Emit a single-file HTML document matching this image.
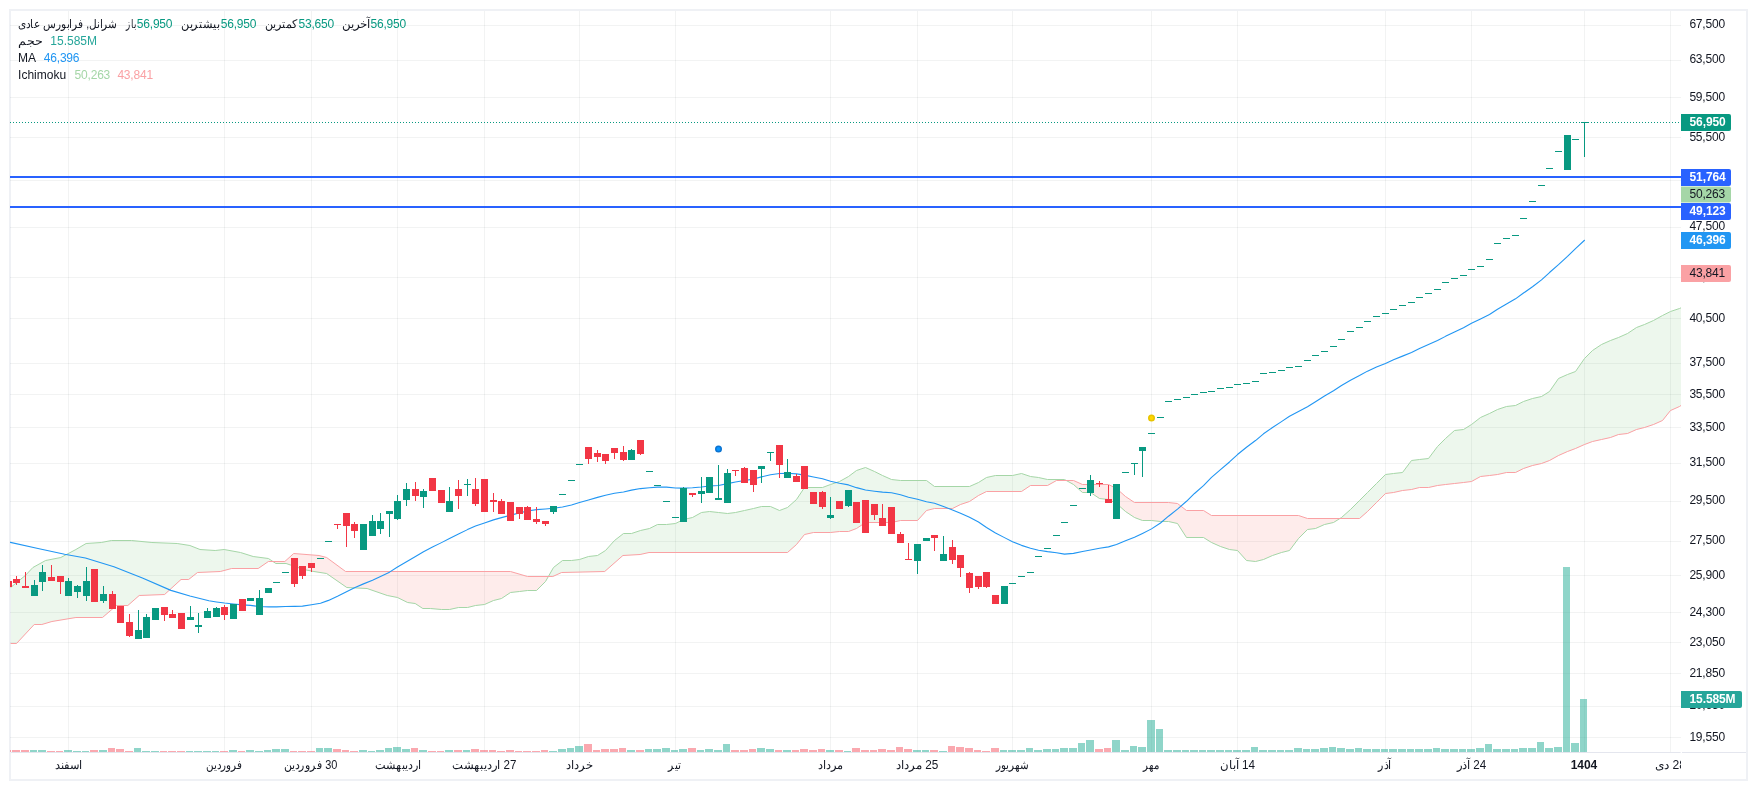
<!DOCTYPE html>
<html lang="fa"><head><meta charset="utf-8"><title>chart</title>
<style>
html,body{margin:0;padding:0;background:#fff;}
body{width:1757px;height:790px;overflow:hidden;position:relative;font-family:"Liberation Sans",sans-serif;}
svg{position:absolute;left:0;top:0;display:block;will-change:transform}
text{font-family:"Liberation Sans",sans-serif;font-size:12px;fill:#131722}
.ax{letter-spacing:-0.2px}
.w{fill:#fff;font-weight:700;letter-spacing:-0.1px}
.d{fill:#131722;letter-spacing:-0.2px}
.t{text-anchor:middle}
.lg{font-size:12px}
</style></head><body>
<svg width="1757" height="790" viewBox="0 0 1757 790">
<defs>
<clipPath id="pane"><rect x="10" y="11" width="1671" height="741"/></clipPath>
<clipPath id="belowA"><polygon points="10.6,587.5 25.3,575.5 32.9,567.5 45.6,560.5 60.8,557.5 75.9,549.5 86.1,543.5 101.3,542.5 111.4,540.5 131.6,540.5 151.9,542.5 177.2,543.5 189.9,545.5 200,549.5 215.2,550.5 224.1,549.5 240.5,552.5 253.2,556.5 268.4,558.5 275.9,563.5 286.1,563.5 303.8,569.5 313.9,571.5 326.6,573.5 346.8,587.5 367.1,588.5 387.3,595.5 397.5,597.5 407.6,602.5 415.2,603.5 422.8,608.5 430.4,608.5 441.5,609.5 449.5,609.5 458.5,607.5 467.5,607.5 475.5,605.5 484.5,604.5 493.5,600.5 501.5,598.5 510.5,592.5 519.5,591.5 527.5,590.5 536.5,590.5 545.5,581.5 553.5,567.5 562.5,560.5 571.5,560.5 579.5,559.5 588.5,556.5 597.5,555.5 605.5,550.5 614.5,540.5 623.5,533.5 631.5,533.5 640.5,530.5 649.5,528.5 657.5,524.5 666.5,524.5 675.5,523.5 683.5,519.5 692.5,517.5 701.5,512.5 709.5,511.5 718.5,512.5 727.5,513.5 735.5,512.5 744.5,510.5 753.5,508.5 761.5,506.5 770.5,506.5 779.5,510.5 787.5,507.5 796.5,499.5 804.5,487.5 822.5,487.5 830.5,484.5 839.5,481.5 848.5,476.5 856.5,470.5 865.5,467.5 874.5,471.5 882.5,475.5 891.5,479.5 900.5,480.5 926.5,480.5 934.5,486.5 969.5,486.5 978.5,482.5 986.5,477.5 995.5,475.5 1012.5,475.5 1021.5,473.5 1030.5,476.5 1038.5,477.5 1047.5,479.5 1064.5,479.5 1073.5,484.5 1082.5,492.5 1090.5,492.5 1099.5,498.5 1108.5,499.5 1116.5,503.5 1125.5,511.5 1134.5,517.5 1142.5,520.5 1151.5,520.5 1160.5,521.5 1168.5,521.5 1177.5,523.5 1186.5,537.5 1203.5,537.5 1211.5,542.5 1220.5,546.5 1229.5,549.5 1237.5,550.5 1246.5,560.5 1255.5,561.5 1263.5,559.5 1272.5,555.5 1281.5,552.5 1289.5,550.5 1298.5,538.5 1307.5,529.5 1315.5,528.5 1324.5,524.5 1333.5,522.5 1341.5,517.5 1350.5,509.5 1359.5,500.5 1367.5,492.5 1376.5,483.5 1385.5,474.5 1393.5,473.5 1402.5,472.5 1411.5,460.5 1419.5,459.5 1428.5,458.5 1437.5,446.5 1445.5,438.5 1454.5,430.5 1463.5,429.5 1471.5,424.5 1480.5,417.5 1489.5,413.5 1497.5,409.5 1506.5,406.5 1515.5,405.5 1523.5,401.5 1532.5,398.5 1541.5,396.5 1549.5,391.5 1558.5,378.5 1567.5,374.5 1575.5,371.5 1584.5,358.5 1592.5,350.5 1601.5,344.5 1610.5,340.5 1618.5,337.5 1627.5,333.5 1636.5,327.5 1644.5,324.5 1653.5,320.5 1662.5,315.5 1670.5,311.5 1679.5,308.5 1688.5,304.5 1696.5,300.5 1696.5,800 10.6,800"/></clipPath>
<clipPath id="belowB"><polygon points="10.6,643.5 16.5,643.5 34.2,624.5 41.8,624.5 51.9,621.5 75.9,617.5 102.5,617.5 116.5,605.5 127.8,605.5 139.2,595.5 164.6,594.5 181,579.5 188.6,579.5 197.5,572.5 220.3,571.5 231.6,568.5 258.2,568.5 268.4,561.5 284.8,561.5 293.7,553.5 319,555.5 326.6,557.5 345.6,571.5 510.5,571.5 527.5,576.5 552.8,576.5 561.6,572.5 604.7,571.5 622.9,555.5 640.1,554.5 649,552.5 787.5,552.5 796.5,544.5 804.5,534.5 813.5,532.5 830.5,532.5 839.5,531.5 848.5,531.5 856.5,528.5 865.5,522.5 891.5,522.5 900.5,520.5 917.5,520.5 926.5,510.5 934.5,508.5 952.5,508.5 960.5,504.5 969.5,501.5 978.5,495.5 986.5,491.5 1021.5,491.5 1030.5,485.5 1047.5,485.5 1056.5,480.5 1073.5,480.5 1082.5,484.5 1108.5,484.5 1116.5,488.5 1125.5,496.5 1134.5,502.5 1168.5,502.5 1177.5,503.5 1186.5,510.5 1203.5,510.5 1211.5,515.5 1298.5,515.5 1307.5,518.5 1359.5,518.5 1367.5,511.5 1376.5,502.5 1385.5,493.5 1393.5,492.5 1402.5,490.5 1411.5,489.5 1419.5,487.5 1428.5,487.5 1437.5,485.5 1445.5,484.5 1454.5,483.5 1463.5,482.5 1471.5,481.5 1480.5,476.5 1489.5,475.5 1497.5,474.5 1506.5,472.5 1515.5,472.5 1523.5,468.5 1532.5,465.5 1541.5,463.5 1549.5,460.5 1558.5,455.5 1567.5,451.5 1575.5,448.5 1584.5,444.5 1592.5,441.5 1601.5,439.5 1610.5,437.5 1618.5,434.5 1627.5,433.5 1636.5,429.5 1644.5,427.5 1653.5,424.5 1662.5,420.5 1670.5,410.5 1679.5,406.5 1688.5,400.5 1696.5,392.5 1696.5,800 10.6,800"/></clipPath>
</defs>
<rect x="0" y="0" width="1757" height="790" fill="#ffffff"/>
<rect x="10" y="10" width="1737" height="770" fill="none" stroke="#eff1f5" stroke-width="2"/>
<g stroke="#2a2e39" stroke-opacity="0.06" stroke-width="1">
<line x1="10" y1="25.5" x2="1681" y2="25.5"/>
<line x1="10" y1="60.5" x2="1681" y2="60.5"/>
<line x1="10" y1="97.5" x2="1681" y2="97.5"/>
<line x1="10" y1="137.5" x2="1681" y2="137.5"/>
<line x1="10" y1="180.5" x2="1681" y2="180.5"/>
<line x1="10" y1="227.5" x2="1681" y2="227.5"/>
<line x1="10" y1="277.5" x2="1681" y2="277.5"/>
<line x1="10" y1="318.5" x2="1681" y2="318.5"/>
<line x1="10" y1="363.5" x2="1681" y2="363.5"/>
<line x1="10" y1="394.5" x2="1681" y2="394.5"/>
<line x1="10" y1="427.5" x2="1681" y2="427.5"/>
<line x1="10" y1="463.5" x2="1681" y2="463.5"/>
<line x1="10" y1="501.5" x2="1681" y2="501.5"/>
<line x1="10" y1="541.5" x2="1681" y2="541.5"/>
<line x1="10" y1="575.5" x2="1681" y2="575.5"/>
<line x1="10" y1="612.5" x2="1681" y2="612.5"/>
<line x1="10" y1="642.5" x2="1681" y2="642.5"/>
<line x1="10" y1="673.5" x2="1681" y2="673.5"/>
<line x1="10" y1="706.5" x2="1681" y2="706.5"/>
<line x1="10" y1="737.5" x2="1681" y2="737.5"/>
<line x1="68.5" y1="11" x2="68.5" y2="752"/>
<line x1="224.5" y1="11" x2="224.5" y2="752"/>
<line x1="311.5" y1="11" x2="311.5" y2="752"/>
<line x1="397.5" y1="11" x2="397.5" y2="752"/>
<line x1="484.5" y1="11" x2="484.5" y2="752"/>
<line x1="579.5" y1="11" x2="579.5" y2="752"/>
<line x1="675.5" y1="11" x2="675.5" y2="752"/>
<line x1="830.5" y1="11" x2="830.5" y2="752"/>
<line x1="917.5" y1="11" x2="917.5" y2="752"/>
<line x1="1012.5" y1="11" x2="1012.5" y2="752"/>
<line x1="1151.5" y1="11" x2="1151.5" y2="752"/>
<line x1="1237.5" y1="11" x2="1237.5" y2="752"/>
<line x1="1385.5" y1="11" x2="1385.5" y2="752"/>
<line x1="1471.5" y1="11" x2="1471.5" y2="752"/>
<line x1="1584.5" y1="11" x2="1584.5" y2="752"/>
<line x1="1670.5" y1="11" x2="1670.5" y2="752"/>
</g>
<g clip-path="url(#pane)">
<polygon points="10.6,587.5 25.3,575.5 32.9,567.5 45.6,560.5 60.8,557.5 75.9,549.5 86.1,543.5 101.3,542.5 111.4,540.5 131.6,540.5 151.9,542.5 177.2,543.5 189.9,545.5 200,549.5 215.2,550.5 224.1,549.5 240.5,552.5 253.2,556.5 268.4,558.5 275.9,563.5 286.1,563.5 303.8,569.5 313.9,571.5 326.6,573.5 346.8,587.5 367.1,588.5 387.3,595.5 397.5,597.5 407.6,602.5 415.2,603.5 422.8,608.5 430.4,608.5 441.5,609.5 449.5,609.5 458.5,607.5 467.5,607.5 475.5,605.5 484.5,604.5 493.5,600.5 501.5,598.5 510.5,592.5 519.5,591.5 527.5,590.5 536.5,590.5 545.5,581.5 553.5,567.5 562.5,560.5 571.5,560.5 579.5,559.5 588.5,556.5 597.5,555.5 605.5,550.5 614.5,540.5 623.5,533.5 631.5,533.5 640.5,530.5 649.5,528.5 657.5,524.5 666.5,524.5 675.5,523.5 683.5,519.5 692.5,517.5 701.5,512.5 709.5,511.5 718.5,512.5 727.5,513.5 735.5,512.5 744.5,510.5 753.5,508.5 761.5,506.5 770.5,506.5 779.5,510.5 787.5,507.5 796.5,499.5 804.5,487.5 822.5,487.5 830.5,484.5 839.5,481.5 848.5,476.5 856.5,470.5 865.5,467.5 874.5,471.5 882.5,475.5 891.5,479.5 900.5,480.5 926.5,480.5 934.5,486.5 969.5,486.5 978.5,482.5 986.5,477.5 995.5,475.5 1012.5,475.5 1021.5,473.5 1030.5,476.5 1038.5,477.5 1047.5,479.5 1064.5,479.5 1073.5,484.5 1082.5,492.5 1090.5,492.5 1099.5,498.5 1108.5,499.5 1116.5,503.5 1125.5,511.5 1134.5,517.5 1142.5,520.5 1151.5,520.5 1160.5,521.5 1168.5,521.5 1177.5,523.5 1186.5,537.5 1203.5,537.5 1211.5,542.5 1220.5,546.5 1229.5,549.5 1237.5,550.5 1246.5,560.5 1255.5,561.5 1263.5,559.5 1272.5,555.5 1281.5,552.5 1289.5,550.5 1298.5,538.5 1307.5,529.5 1315.5,528.5 1324.5,524.5 1333.5,522.5 1341.5,517.5 1350.5,509.5 1359.5,500.5 1367.5,492.5 1376.5,483.5 1385.5,474.5 1393.5,473.5 1402.5,472.5 1411.5,460.5 1419.5,459.5 1428.5,458.5 1437.5,446.5 1445.5,438.5 1454.5,430.5 1463.5,429.5 1471.5,424.5 1480.5,417.5 1489.5,413.5 1497.5,409.5 1506.5,406.5 1515.5,405.5 1523.5,401.5 1532.5,398.5 1541.5,396.5 1549.5,391.5 1558.5,378.5 1567.5,374.5 1575.5,371.5 1584.5,358.5 1592.5,350.5 1601.5,344.5 1610.5,340.5 1618.5,337.5 1627.5,333.5 1636.5,327.5 1644.5,324.5 1653.5,320.5 1662.5,315.5 1670.5,311.5 1679.5,308.5 1688.5,304.5 1696.5,300.5 1696.5,392.5 1688.5,400.5 1679.5,406.5 1670.5,410.5 1662.5,420.5 1653.5,424.5 1644.5,427.5 1636.5,429.5 1627.5,433.5 1618.5,434.5 1610.5,437.5 1601.5,439.5 1592.5,441.5 1584.5,444.5 1575.5,448.5 1567.5,451.5 1558.5,455.5 1549.5,460.5 1541.5,463.5 1532.5,465.5 1523.5,468.5 1515.5,472.5 1506.5,472.5 1497.5,474.5 1489.5,475.5 1480.5,476.5 1471.5,481.5 1463.5,482.5 1454.5,483.5 1445.5,484.5 1437.5,485.5 1428.5,487.5 1419.5,487.5 1411.5,489.5 1402.5,490.5 1393.5,492.5 1385.5,493.5 1376.5,502.5 1367.5,511.5 1359.5,518.5 1307.5,518.5 1298.5,515.5 1211.5,515.5 1203.5,510.5 1186.5,510.5 1177.5,503.5 1168.5,502.5 1134.5,502.5 1125.5,496.5 1116.5,488.5 1108.5,484.5 1082.5,484.5 1073.5,480.5 1056.5,480.5 1047.5,485.5 1030.5,485.5 1021.5,491.5 986.5,491.5 978.5,495.5 969.5,501.5 960.5,504.5 952.5,508.5 934.5,508.5 926.5,510.5 917.5,520.5 900.5,520.5 891.5,522.5 865.5,522.5 856.5,528.5 848.5,531.5 839.5,531.5 830.5,532.5 813.5,532.5 804.5,534.5 796.5,544.5 787.5,552.5 649,552.5 640.1,554.5 622.9,555.5 604.7,571.5 561.6,572.5 552.8,576.5 527.5,576.5 510.5,571.5 345.6,571.5 326.6,557.5 319,555.5 293.7,553.5 284.8,561.5 268.4,561.5 258.2,568.5 231.6,568.5 220.3,571.5 197.5,572.5 188.6,579.5 181,579.5 164.6,594.5 139.2,595.5 127.8,605.5 116.5,605.5 102.5,617.5 75.9,617.5 51.9,621.5 41.8,624.5 34.2,624.5 16.5,643.5 10.6,643.5" fill="#4caf50" fill-opacity="0.1" clip-path="url(#belowA)"/>
<polygon points="10.6,587.5 25.3,575.5 32.9,567.5 45.6,560.5 60.8,557.5 75.9,549.5 86.1,543.5 101.3,542.5 111.4,540.5 131.6,540.5 151.9,542.5 177.2,543.5 189.9,545.5 200,549.5 215.2,550.5 224.1,549.5 240.5,552.5 253.2,556.5 268.4,558.5 275.9,563.5 286.1,563.5 303.8,569.5 313.9,571.5 326.6,573.5 346.8,587.5 367.1,588.5 387.3,595.5 397.5,597.5 407.6,602.5 415.2,603.5 422.8,608.5 430.4,608.5 441.5,609.5 449.5,609.5 458.5,607.5 467.5,607.5 475.5,605.5 484.5,604.5 493.5,600.5 501.5,598.5 510.5,592.5 519.5,591.5 527.5,590.5 536.5,590.5 545.5,581.5 553.5,567.5 562.5,560.5 571.5,560.5 579.5,559.5 588.5,556.5 597.5,555.5 605.5,550.5 614.5,540.5 623.5,533.5 631.5,533.5 640.5,530.5 649.5,528.5 657.5,524.5 666.5,524.5 675.5,523.5 683.5,519.5 692.5,517.5 701.5,512.5 709.5,511.5 718.5,512.5 727.5,513.5 735.5,512.5 744.5,510.5 753.5,508.5 761.5,506.5 770.5,506.5 779.5,510.5 787.5,507.5 796.5,499.5 804.5,487.5 822.5,487.5 830.5,484.5 839.5,481.5 848.5,476.5 856.5,470.5 865.5,467.5 874.5,471.5 882.5,475.5 891.5,479.5 900.5,480.5 926.5,480.5 934.5,486.5 969.5,486.5 978.5,482.5 986.5,477.5 995.5,475.5 1012.5,475.5 1021.5,473.5 1030.5,476.5 1038.5,477.5 1047.5,479.5 1064.5,479.5 1073.5,484.5 1082.5,492.5 1090.5,492.5 1099.5,498.5 1108.5,499.5 1116.5,503.5 1125.5,511.5 1134.5,517.5 1142.5,520.5 1151.5,520.5 1160.5,521.5 1168.5,521.5 1177.5,523.5 1186.5,537.5 1203.5,537.5 1211.5,542.5 1220.5,546.5 1229.5,549.5 1237.5,550.5 1246.5,560.5 1255.5,561.5 1263.5,559.5 1272.5,555.5 1281.5,552.5 1289.5,550.5 1298.5,538.5 1307.5,529.5 1315.5,528.5 1324.5,524.5 1333.5,522.5 1341.5,517.5 1350.5,509.5 1359.5,500.5 1367.5,492.5 1376.5,483.5 1385.5,474.5 1393.5,473.5 1402.5,472.5 1411.5,460.5 1419.5,459.5 1428.5,458.5 1437.5,446.5 1445.5,438.5 1454.5,430.5 1463.5,429.5 1471.5,424.5 1480.5,417.5 1489.5,413.5 1497.5,409.5 1506.5,406.5 1515.5,405.5 1523.5,401.5 1532.5,398.5 1541.5,396.5 1549.5,391.5 1558.5,378.5 1567.5,374.5 1575.5,371.5 1584.5,358.5 1592.5,350.5 1601.5,344.5 1610.5,340.5 1618.5,337.5 1627.5,333.5 1636.5,327.5 1644.5,324.5 1653.5,320.5 1662.5,315.5 1670.5,311.5 1679.5,308.5 1688.5,304.5 1696.5,300.5 1696.5,392.5 1688.5,400.5 1679.5,406.5 1670.5,410.5 1662.5,420.5 1653.5,424.5 1644.5,427.5 1636.5,429.5 1627.5,433.5 1618.5,434.5 1610.5,437.5 1601.5,439.5 1592.5,441.5 1584.5,444.5 1575.5,448.5 1567.5,451.5 1558.5,455.5 1549.5,460.5 1541.5,463.5 1532.5,465.5 1523.5,468.5 1515.5,472.5 1506.5,472.5 1497.5,474.5 1489.5,475.5 1480.5,476.5 1471.5,481.5 1463.5,482.5 1454.5,483.5 1445.5,484.5 1437.5,485.5 1428.5,487.5 1419.5,487.5 1411.5,489.5 1402.5,490.5 1393.5,492.5 1385.5,493.5 1376.5,502.5 1367.5,511.5 1359.5,518.5 1307.5,518.5 1298.5,515.5 1211.5,515.5 1203.5,510.5 1186.5,510.5 1177.5,503.5 1168.5,502.5 1134.5,502.5 1125.5,496.5 1116.5,488.5 1108.5,484.5 1082.5,484.5 1073.5,480.5 1056.5,480.5 1047.5,485.5 1030.5,485.5 1021.5,491.5 986.5,491.5 978.5,495.5 969.5,501.5 960.5,504.5 952.5,508.5 934.5,508.5 926.5,510.5 917.5,520.5 900.5,520.5 891.5,522.5 865.5,522.5 856.5,528.5 848.5,531.5 839.5,531.5 830.5,532.5 813.5,532.5 804.5,534.5 796.5,544.5 787.5,552.5 649,552.5 640.1,554.5 622.9,555.5 604.7,571.5 561.6,572.5 552.8,576.5 527.5,576.5 510.5,571.5 345.6,571.5 326.6,557.5 319,555.5 293.7,553.5 284.8,561.5 268.4,561.5 258.2,568.5 231.6,568.5 220.3,571.5 197.5,572.5 188.6,579.5 181,579.5 164.6,594.5 139.2,595.5 127.8,605.5 116.5,605.5 102.5,617.5 75.9,617.5 51.9,621.5 41.8,624.5 34.2,624.5 16.5,643.5 10.6,643.5" fill="#f44336" fill-opacity="0.1" clip-path="url(#belowB)"/>
<polyline points="10.6,587.5 25.3,575.5 32.9,567.5 45.6,560.5 60.8,557.5 75.9,549.5 86.1,543.5 101.3,542.5 111.4,540.5 131.6,540.5 151.9,542.5 177.2,543.5 189.9,545.5 200,549.5 215.2,550.5 224.1,549.5 240.5,552.5 253.2,556.5 268.4,558.5 275.9,563.5 286.1,563.5 303.8,569.5 313.9,571.5 326.6,573.5 346.8,587.5 367.1,588.5 387.3,595.5 397.5,597.5 407.6,602.5 415.2,603.5 422.8,608.5 430.4,608.5 441.5,609.5 449.5,609.5 458.5,607.5 467.5,607.5 475.5,605.5 484.5,604.5 493.5,600.5 501.5,598.5 510.5,592.5 519.5,591.5 527.5,590.5 536.5,590.5 545.5,581.5 553.5,567.5 562.5,560.5 571.5,560.5 579.5,559.5 588.5,556.5 597.5,555.5 605.5,550.5 614.5,540.5 623.5,533.5 631.5,533.5 640.5,530.5 649.5,528.5 657.5,524.5 666.5,524.5 675.5,523.5 683.5,519.5 692.5,517.5 701.5,512.5 709.5,511.5 718.5,512.5 727.5,513.5 735.5,512.5 744.5,510.5 753.5,508.5 761.5,506.5 770.5,506.5 779.5,510.5 787.5,507.5 796.5,499.5 804.5,487.5 822.5,487.5 830.5,484.5 839.5,481.5 848.5,476.5 856.5,470.5 865.5,467.5 874.5,471.5 882.5,475.5 891.5,479.5 900.5,480.5 926.5,480.5 934.5,486.5 969.5,486.5 978.5,482.5 986.5,477.5 995.5,475.5 1012.5,475.5 1021.5,473.5 1030.5,476.5 1038.5,477.5 1047.5,479.5 1064.5,479.5 1073.5,484.5 1082.5,492.5 1090.5,492.5 1099.5,498.5 1108.5,499.5 1116.5,503.5 1125.5,511.5 1134.5,517.5 1142.5,520.5 1151.5,520.5 1160.5,521.5 1168.5,521.5 1177.5,523.5 1186.5,537.5 1203.5,537.5 1211.5,542.5 1220.5,546.5 1229.5,549.5 1237.5,550.5 1246.5,560.5 1255.5,561.5 1263.5,559.5 1272.5,555.5 1281.5,552.5 1289.5,550.5 1298.5,538.5 1307.5,529.5 1315.5,528.5 1324.5,524.5 1333.5,522.5 1341.5,517.5 1350.5,509.5 1359.5,500.5 1367.5,492.5 1376.5,483.5 1385.5,474.5 1393.5,473.5 1402.5,472.5 1411.5,460.5 1419.5,459.5 1428.5,458.5 1437.5,446.5 1445.5,438.5 1454.5,430.5 1463.5,429.5 1471.5,424.5 1480.5,417.5 1489.5,413.5 1497.5,409.5 1506.5,406.5 1515.5,405.5 1523.5,401.5 1532.5,398.5 1541.5,396.5 1549.5,391.5 1558.5,378.5 1567.5,374.5 1575.5,371.5 1584.5,358.5 1592.5,350.5 1601.5,344.5 1610.5,340.5 1618.5,337.5 1627.5,333.5 1636.5,327.5 1644.5,324.5 1653.5,320.5 1662.5,315.5 1670.5,311.5 1679.5,308.5 1688.5,304.5 1696.5,300.5" fill="none" stroke="#a5d6a7" stroke-width="1" stroke-linejoin="round"/>
<polyline points="10.6,643.5 16.5,643.5 34.2,624.5 41.8,624.5 51.9,621.5 75.9,617.5 102.5,617.5 116.5,605.5 127.8,605.5 139.2,595.5 164.6,594.5 181,579.5 188.6,579.5 197.5,572.5 220.3,571.5 231.6,568.5 258.2,568.5 268.4,561.5 284.8,561.5 293.7,553.5 319,555.5 326.6,557.5 345.6,571.5 510.5,571.5 527.5,576.5 552.8,576.5 561.6,572.5 604.7,571.5 622.9,555.5 640.1,554.5 649,552.5 787.5,552.5 796.5,544.5 804.5,534.5 813.5,532.5 830.5,532.5 839.5,531.5 848.5,531.5 856.5,528.5 865.5,522.5 891.5,522.5 900.5,520.5 917.5,520.5 926.5,510.5 934.5,508.5 952.5,508.5 960.5,504.5 969.5,501.5 978.5,495.5 986.5,491.5 1021.5,491.5 1030.5,485.5 1047.5,485.5 1056.5,480.5 1073.5,480.5 1082.5,484.5 1108.5,484.5 1116.5,488.5 1125.5,496.5 1134.5,502.5 1168.5,502.5 1177.5,503.5 1186.5,510.5 1203.5,510.5 1211.5,515.5 1298.5,515.5 1307.5,518.5 1359.5,518.5 1367.5,511.5 1376.5,502.5 1385.5,493.5 1393.5,492.5 1402.5,490.5 1411.5,489.5 1419.5,487.5 1428.5,487.5 1437.5,485.5 1445.5,484.5 1454.5,483.5 1463.5,482.5 1471.5,481.5 1480.5,476.5 1489.5,475.5 1497.5,474.5 1506.5,472.5 1515.5,472.5 1523.5,468.5 1532.5,465.5 1541.5,463.5 1549.5,460.5 1558.5,455.5 1567.5,451.5 1575.5,448.5 1584.5,444.5 1592.5,441.5 1601.5,439.5 1610.5,437.5 1618.5,434.5 1627.5,433.5 1636.5,429.5 1644.5,427.5 1653.5,424.5 1662.5,420.5 1670.5,410.5 1679.5,406.5 1688.5,400.5 1696.5,392.5" fill="none" stroke="#faa1a4" stroke-width="1" stroke-linejoin="round"/>
<g fill="#1fab93" fill-opacity="0.5"><rect x="30" y="750" width="7" height="2"/><rect x="38" y="750" width="8" height="2"/><rect x="64" y="750" width="8" height="2"/><rect x="73" y="751" width="8" height="1"/><rect x="82" y="751" width="7" height="1"/><rect x="99" y="750" width="8" height="2"/><rect x="134" y="748" width="7" height="4"/><rect x="142" y="751" width="8" height="1"/><rect x="151" y="751" width="8" height="1"/><rect x="186" y="751" width="7" height="1"/><rect x="194" y="751" width="8" height="1"/><rect x="203" y="751" width="8" height="1"/><rect x="212" y="751" width="7" height="1"/><rect x="229" y="750" width="8" height="2"/><rect x="246" y="750" width="8" height="2"/><rect x="255" y="751" width="8" height="1"/><rect x="264" y="750" width="7" height="2"/><rect x="272" y="749" width="8" height="3"/><rect x="281" y="749" width="8" height="3"/><rect x="316" y="748" width="7" height="4"/><rect x="324" y="748" width="8" height="4"/><rect x="359" y="750" width="8" height="2"/><rect x="368" y="751" width="7" height="1"/><rect x="376" y="750" width="8" height="2"/><rect x="385" y="748" width="7" height="4"/><rect x="393" y="747" width="8" height="5"/><rect x="402" y="749" width="8" height="3"/><rect x="419" y="750" width="8" height="2"/><rect x="445" y="750" width="8" height="2"/><rect x="463" y="750" width="7" height="2"/><rect x="549" y="751" width="8" height="1"/><rect x="558" y="749" width="8" height="3"/><rect x="567" y="748" width="7" height="4"/><rect x="575" y="746" width="8" height="6"/><rect x="627" y="750" width="8" height="2"/><rect x="645" y="749" width="7" height="3"/><rect x="653" y="749" width="8" height="3"/><rect x="662" y="748" width="8" height="4"/><rect x="671" y="750" width="7" height="2"/><rect x="679" y="749" width="8" height="3"/><rect x="697" y="750" width="7" height="2"/><rect x="705" y="749" width="8" height="3"/><rect x="714" y="750" width="8" height="2"/><rect x="723" y="744" width="7" height="8"/><rect x="757" y="748" width="8" height="4"/><rect x="766" y="749" width="8" height="3"/><rect x="783" y="750" width="8" height="2"/><rect x="826" y="750" width="8" height="2"/><rect x="844" y="751" width="7" height="1"/><rect x="913" y="750" width="8" height="2"/><rect x="922" y="750" width="7" height="2"/><rect x="939" y="751" width="8" height="1"/><rect x="1000" y="750" width="7" height="2"/><rect x="1008" y="750" width="8" height="2"/><rect x="1017" y="750" width="8" height="2"/><rect x="1026" y="748" width="7" height="4"/><rect x="1034" y="750" width="8" height="2"/><rect x="1043" y="749" width="8" height="3"/><rect x="1052" y="749" width="7" height="3"/><rect x="1060" y="748" width="8" height="4"/><rect x="1069" y="748" width="8" height="4"/><rect x="1078" y="743" width="7" height="9"/><rect x="1086" y="740" width="8" height="12"/><rect x="1112" y="740" width="8" height="12"/><rect x="1121" y="750" width="8" height="2"/><rect x="1130" y="746" width="7" height="6"/><rect x="1138" y="747" width="8" height="5"/><rect x="1147" y="720" width="8" height="32"/><rect x="1156" y="729" width="7" height="23"/><rect x="1164" y="750" width="8" height="2"/><rect x="1173" y="750" width="8" height="2"/><rect x="1182" y="750" width="7" height="2"/><rect x="1190" y="750" width="8" height="2"/><rect x="1199" y="750" width="7" height="2"/><rect x="1207" y="750" width="8" height="2"/><rect x="1216" y="750" width="8" height="2"/><rect x="1225" y="750" width="7" height="2"/><rect x="1233" y="750" width="8" height="2"/><rect x="1242" y="750" width="8" height="2"/><rect x="1251" y="747" width="7" height="5"/><rect x="1259" y="750" width="8" height="2"/><rect x="1268" y="750" width="8" height="2"/><rect x="1277" y="750" width="7" height="2"/><rect x="1285" y="750" width="8" height="2"/><rect x="1294" y="748" width="8" height="4"/><rect x="1303" y="749" width="7" height="3"/><rect x="1311" y="749" width="8" height="3"/><rect x="1320" y="748" width="8" height="4"/><rect x="1329" y="747" width="7" height="5"/><rect x="1337" y="748" width="8" height="4"/><rect x="1346" y="749" width="8" height="3"/><rect x="1355" y="748" width="7" height="4"/><rect x="1363" y="749" width="8" height="3"/><rect x="1372" y="749" width="8" height="3"/><rect x="1381" y="749" width="7" height="3"/><rect x="1389" y="749" width="8" height="3"/><rect x="1398" y="749" width="8" height="3"/><rect x="1407" y="749" width="7" height="3"/><rect x="1415" y="749" width="8" height="3"/><rect x="1424" y="749" width="8" height="3"/><rect x="1433" y="748" width="7" height="4"/><rect x="1441" y="749" width="8" height="3"/><rect x="1450" y="749" width="8" height="3"/><rect x="1459" y="749" width="7" height="3"/><rect x="1467" y="749" width="8" height="3"/><rect x="1476" y="748" width="8" height="4"/><rect x="1485" y="744" width="7" height="8"/><rect x="1493" y="749" width="8" height="3"/><rect x="1502" y="749" width="8" height="3"/><rect x="1511" y="749" width="7" height="3"/><rect x="1519" y="748" width="8" height="4"/><rect x="1528" y="748" width="8" height="4"/><rect x="1537" y="742" width="7" height="10"/><rect x="1545" y="748" width="8" height="4"/><rect x="1554" y="747" width="8" height="5"/><rect x="1563" y="567" width="7" height="185"/><rect x="1571" y="743" width="8" height="9"/><rect x="1580" y="699" width="7" height="53"/></g>
<g fill="#f5515f" fill-opacity="0.5"><rect x="4" y="750" width="7" height="2"/><rect x="12" y="750" width="8" height="2"/><rect x="21" y="750" width="8" height="2"/><rect x="47" y="751" width="8" height="1"/><rect x="56" y="751" width="7" height="1"/><rect x="90" y="750" width="8" height="2"/><rect x="108" y="748" width="7" height="4"/><rect x="116" y="749" width="8" height="3"/><rect x="125" y="751" width="8" height="1"/><rect x="160" y="751" width="7" height="1"/><rect x="168" y="751" width="8" height="1"/><rect x="177" y="751" width="8" height="1"/><rect x="220" y="751" width="8" height="1"/><rect x="238" y="751" width="7" height="1"/><rect x="290" y="751" width="7" height="1"/><rect x="298" y="751" width="8" height="1"/><rect x="307" y="751" width="8" height="1"/><rect x="333" y="749" width="8" height="3"/><rect x="342" y="750" width="7" height="2"/><rect x="350" y="751" width="8" height="1"/><rect x="411" y="748" width="7" height="4"/><rect x="428" y="751" width="8" height="1"/><rect x="437" y="751" width="7" height="1"/><rect x="454" y="750" width="8" height="2"/><rect x="471" y="749" width="8" height="3"/><rect x="480" y="750" width="8" height="2"/><rect x="489" y="750" width="7" height="2"/><rect x="497" y="751" width="8" height="1"/><rect x="506" y="750" width="8" height="2"/><rect x="515" y="751" width="7" height="1"/><rect x="523" y="751" width="8" height="1"/><rect x="532" y="751" width="8" height="1"/><rect x="541" y="750" width="7" height="2"/><rect x="584" y="744" width="8" height="8"/><rect x="593" y="750" width="7" height="2"/><rect x="601" y="749" width="8" height="3"/><rect x="610" y="749" width="8" height="3"/><rect x="619" y="748" width="7" height="4"/><rect x="636" y="750" width="8" height="2"/><rect x="688" y="748" width="8" height="4"/><rect x="731" y="750" width="8" height="2"/><rect x="740" y="750" width="8" height="2"/><rect x="749" y="749" width="7" height="3"/><rect x="775" y="750" width="7" height="2"/><rect x="792" y="750" width="7" height="2"/><rect x="800" y="749" width="8" height="3"/><rect x="809" y="750" width="8" height="2"/><rect x="818" y="749" width="7" height="3"/><rect x="835" y="750" width="8" height="2"/><rect x="852" y="748" width="8" height="4"/><rect x="861" y="750" width="8" height="2"/><rect x="870" y="750" width="7" height="2"/><rect x="878" y="749" width="8" height="3"/><rect x="887" y="750" width="8" height="2"/><rect x="896" y="747" width="7" height="5"/><rect x="904" y="749" width="8" height="3"/><rect x="930" y="750" width="8" height="2"/><rect x="948" y="746" width="7" height="6"/><rect x="956" y="747" width="8" height="5"/><rect x="965" y="748" width="8" height="4"/><rect x="974" y="750" width="7" height="2"/><rect x="982" y="751" width="8" height="1"/><rect x="991" y="748" width="8" height="4"/><rect x="1095" y="749" width="8" height="3"/><rect x="1104" y="748" width="7" height="4"/></g>
<line x1="10" y1="122.5" x2="1681" y2="122.5" stroke="#089981" stroke-width="1" stroke-dasharray="1 2"/>
<line x1="10" y1="177" x2="1681" y2="177" stroke="#2962ff" stroke-width="2"/>
<line x1="10" y1="207" x2="1681" y2="207" stroke="#2962ff" stroke-width="2"/>
<polyline points="10.4,542.37 38,548.57 64.6,554.27 85.4,558.07 113.9,566.67 142.4,578.07 170.9,590.37 189.9,596.07 208.9,600.77 216.5,601.94 224.5,603.06 233.5,603.96 242.5,604.89 250.5,605.42 259.5,606.5 268.5,606.83 276.5,606.88 285.5,606.5 294.5,606.37 302.5,606.12 311.5,604.71 320.5,603.2 328.5,600.38 337.5,596.28 346.5,591.77 354.5,587.69 363.5,583.87 372.5,580.28 380.5,576.48 389.5,572.16 397.5,567.02 406.5,561.79 415.5,556.59 423.5,551.75 432.5,547.02 441.5,542.63 449.5,538.59 458.5,534.11 467.5,529.62 475.5,525.96 484.5,523.01 493.5,519.88 501.5,517.61 510.5,515.24 519.5,512.89 527.5,511.07 536.5,509.66 545.5,508.97 553.5,508.25 562.5,507.02 571.5,505.01 579.5,502.57 588.5,500 597.5,497.35 605.5,495.27 614.5,493.25 623.5,492.01 631.5,490.15 640.5,488.58 649.5,487.81 657.5,487.14 666.5,487.14 675.5,487.99 683.5,488.15 692.5,487.8 701.5,487.02 709.5,486.06 718.5,485.48 727.5,483.64 735.5,481.95 744.5,480.51 753.5,479.09 761.5,476.87 770.5,474.73 779.5,473.54 787.5,473.22 796.5,473.9 804.5,475.1 813.5,476.97 822.5,478.8 830.5,481.3 839.5,483.26 848.5,484.9 856.5,487.65 865.5,490.04 874.5,491.18 882.5,492.11 891.5,492.71 900.5,494.8 908.5,497.26 917.5,499.31 926.5,501.73 934.5,503.25 943.5,506.44 952.5,509.96 960.5,513.29 969.5,517.28 978.5,522.03 986.5,527.46 995.5,533 1004.5,537.62 1012.5,541.76 1021.5,545.35 1030.5,548.16 1038.5,550.22 1047.5,551.59 1056.5,552.73 1064.5,554.12 1073.5,553.39 1082.5,551.49 1090.5,550 1099.5,548.18 1108.5,546.88 1116.5,544.42 1125.5,540.77 1134.5,537.32 1142.5,533.39 1151.5,528.88 1160.5,522.99 1168.5,516.2 1177.5,509.09 1186.5,501.28 1194.5,493.47 1203.5,485.66 1211.5,477.36 1220.5,469.59 1229.5,461.97 1237.5,454.54 1246.5,447.29 1255.5,440.56 1263.5,433.81 1272.5,427.52 1281.5,421.65 1289.5,416.27 1298.5,411.5 1307.5,406.78 1315.5,401.78 1324.5,396 1333.5,390.67 1341.5,385.5 1350.5,380.34 1359.5,375.6 1367.5,371.14 1376.5,367.08 1385.5,363.51 1393.5,359.85 1402.5,356.13 1411.5,352.4 1419.5,348.56 1428.5,344.6 1437.5,340.61 1445.5,336.37 1454.5,332.1 1463.5,327.77 1471.5,323.28 1480.5,318.98 1489.5,314.44 1497.5,309.3 1506.5,304.1 1515.5,298.84 1523.5,293.07 1532.5,286.76 1541.5,279.92 1549.5,272.53 1558.5,264.66 1567.5,256.4 1575.5,248.58 1584.5,240.26" fill="none" stroke="#2196f3" stroke-width="1.1" stroke-linejoin="round" stroke-linecap="round"/>
<g fill="#089981"><rect x="34" y="580" width="1" height="16"/><rect x="31" y="585" width="7" height="11"/><rect x="42" y="565" width="1" height="26"/><rect x="39" y="572" width="7" height="10"/><rect x="68" y="578" width="1" height="18"/><rect x="65" y="581" width="7" height="15"/><rect x="77" y="585" width="1" height="13"/><rect x="74" y="586" width="7" height="6"/><rect x="86" y="567" width="1" height="34"/><rect x="83" y="581" width="7" height="15"/><rect x="103" y="586" width="1" height="17"/><rect x="100" y="594" width="7" height="7"/><rect x="138" y="610" width="1" height="29"/><rect x="135" y="630" width="7" height="9"/><rect x="146" y="614" width="1" height="24"/><rect x="143" y="617" width="7" height="21"/><rect x="152" y="608" width="7" height="12"/><rect x="190" y="606" width="1" height="14"/><rect x="187" y="617" width="7" height="3"/><rect x="198" y="613" width="1" height="20"/><rect x="195" y="625" width="7" height="2"/><rect x="207" y="608" width="1" height="10"/><rect x="204" y="611" width="7" height="7"/><rect x="216" y="607" width="1" height="10"/><rect x="213" y="608" width="7" height="9"/><rect x="230" y="604" width="7" height="15"/><rect x="247" y="598" width="7" height="3"/><rect x="259" y="590" width="1" height="25"/><rect x="256" y="598" width="7" height="17"/><rect x="265" y="588" width="7" height="5"/><rect x="273" y="582" width="7" height="1"/><rect x="282" y="572" width="7" height="1"/><rect x="317" y="558" width="7" height="1"/><rect x="325" y="541" width="7" height="1"/><rect x="360" y="524" width="7" height="26"/><rect x="372" y="515" width="1" height="21"/><rect x="369" y="521" width="7" height="15"/><rect x="380" y="513" width="1" height="21"/><rect x="377" y="521" width="7" height="8"/><rect x="389" y="511" width="1" height="26"/><rect x="386" y="511" width="7" height="3"/><rect x="397" y="495" width="1" height="25"/><rect x="394" y="501" width="7" height="18"/><rect x="406" y="483" width="1" height="23"/><rect x="403" y="489" width="7" height="11"/><rect x="423" y="489" width="1" height="19"/><rect x="420" y="491" width="7" height="6"/><rect x="449" y="487" width="1" height="25"/><rect x="446" y="501" width="7" height="11"/><rect x="467" y="479" width="1" height="17"/><rect x="464" y="484" width="7" height="1"/><rect x="553" y="506" width="1" height="8"/><rect x="550" y="506" width="7" height="6"/><rect x="559" y="494" width="7" height="1"/><rect x="568" y="480" width="7" height="1"/><rect x="576" y="464" width="7" height="1"/><rect x="631" y="449" width="1" height="11"/><rect x="628" y="450" width="7" height="10"/><rect x="646" y="471" width="7" height="1"/><rect x="654" y="485" width="7" height="1"/><rect x="663" y="501" width="7" height="1"/><rect x="672" y="517" width="7" height="1"/><rect x="683" y="487" width="1" height="35"/><rect x="680" y="488" width="7" height="34"/><rect x="701" y="477" width="1" height="26"/><rect x="698" y="491" width="7" height="3"/><rect x="706" y="477" width="7" height="16"/><rect x="718" y="465" width="1" height="35"/><rect x="715" y="498" width="7" height="2"/><rect x="727" y="469" width="1" height="34"/><rect x="724" y="473" width="7" height="30"/><rect x="761" y="466" width="1" height="17"/><rect x="758" y="466" width="7" height="3"/><rect x="770" y="452" width="1" height="9"/><rect x="767" y="452" width="7" height="1"/><rect x="787" y="459" width="1" height="19"/><rect x="784" y="472" width="7" height="6"/><rect x="830" y="497" width="1" height="22"/><rect x="827" y="515" width="7" height="3"/><rect x="848" y="490" width="1" height="17"/><rect x="845" y="490" width="7" height="16"/><rect x="917" y="544" width="1" height="30"/><rect x="914" y="544" width="7" height="17"/><rect x="923" y="538" width="7" height="3"/><rect x="943" y="536" width="1" height="25"/><rect x="940" y="554" width="7" height="7"/><rect x="1001" y="586" width="7" height="18"/><rect x="1009" y="583" width="7" height="1"/><rect x="1018" y="576" width="7" height="1"/><rect x="1027" y="572" width="7" height="1"/><rect x="1035" y="556" width="7" height="1"/><rect x="1044" y="548" width="7" height="1"/><rect x="1053" y="535" width="7" height="1"/><rect x="1061" y="522" width="7" height="1"/><rect x="1070" y="505" width="7" height="1"/><rect x="1079" y="488" width="7" height="1"/><rect x="1090" y="475" width="1" height="21"/><rect x="1087" y="480" width="7" height="13"/><rect x="1113" y="484" width="7" height="35"/><rect x="1122" y="472" width="7" height="1"/><rect x="1134" y="463" width="1" height="12"/><rect x="1131" y="463" width="7" height="1"/><rect x="1142" y="447" width="1" height="30"/><rect x="1139" y="447" width="7" height="4"/><rect x="1148" y="433" width="7" height="1"/><rect x="1157" y="417" width="7" height="1"/><rect x="1165" y="401" width="7" height="1"/><rect x="1174" y="399" width="7" height="1"/><rect x="1183" y="397" width="7" height="1"/><rect x="1191" y="394" width="7" height="1"/><rect x="1200" y="392" width="7" height="1"/><rect x="1208" y="391" width="7" height="1"/><rect x="1217" y="388" width="7" height="1"/><rect x="1226" y="387" width="7" height="1"/><rect x="1234" y="384" width="7" height="1"/><rect x="1243" y="383" width="7" height="1"/><rect x="1252" y="381" width="7" height="1"/><rect x="1260" y="373" width="7" height="1"/><rect x="1269" y="372" width="7" height="1"/><rect x="1278" y="370" width="7" height="1"/><rect x="1286" y="367" width="7" height="1"/><rect x="1295" y="366" width="7" height="1"/><rect x="1304" y="360" width="7" height="1"/><rect x="1312" y="355" width="7" height="1"/><rect x="1321" y="351" width="7" height="1"/><rect x="1330" y="346" width="7" height="1"/><rect x="1338" y="339" width="7" height="1"/><rect x="1347" y="331" width="7" height="1"/><rect x="1356" y="327" width="7" height="1"/><rect x="1364" y="321" width="7" height="1"/><rect x="1373" y="316" width="7" height="1"/><rect x="1382" y="313" width="7" height="1"/><rect x="1390" y="309" width="7" height="1"/><rect x="1399" y="305" width="7" height="1"/><rect x="1408" y="302" width="7" height="1"/><rect x="1416" y="297" width="7" height="1"/><rect x="1425" y="293" width="7" height="1"/><rect x="1434" y="289" width="7" height="1"/><rect x="1442" y="282" width="7" height="1"/><rect x="1451" y="278" width="7" height="1"/><rect x="1460" y="275" width="7" height="1"/><rect x="1468" y="269" width="7" height="1"/><rect x="1477" y="266" width="7" height="1"/><rect x="1486" y="259" width="7" height="1"/><rect x="1494" y="243" width="7" height="1"/><rect x="1503" y="238" width="7" height="1"/><rect x="1512" y="235" width="7" height="1"/><rect x="1520" y="218" width="7" height="1"/><rect x="1529" y="201" width="7" height="1"/><rect x="1538" y="185" width="7" height="1"/><rect x="1546" y="168" width="7" height="1"/><rect x="1555" y="151" width="7" height="1"/><rect x="1564" y="135" width="7" height="35"/><rect x="1572" y="139" width="7" height="1"/><rect x="1584" y="122" width="1" height="35"/><rect x="1581" y="122" width="7" height="1"/></g>
<g fill="#f23645"><rect x="5" y="581" width="7" height="6"/><rect x="16" y="576" width="1" height="9"/><rect x="13" y="579" width="7" height="4"/><rect x="25" y="572" width="1" height="16"/><rect x="22" y="586" width="7" height="2"/><rect x="51" y="565" width="1" height="16"/><rect x="48" y="577" width="7" height="4"/><rect x="60" y="576" width="1" height="18"/><rect x="57" y="576" width="7" height="6"/><rect x="91" y="569" width="7" height="33"/><rect x="112" y="591" width="1" height="18"/><rect x="109" y="594" width="7" height="15"/><rect x="117" y="606" width="7" height="17"/><rect x="129" y="614" width="1" height="23"/><rect x="126" y="622" width="7" height="14"/><rect x="164" y="607" width="1" height="14"/><rect x="161" y="607" width="7" height="8"/><rect x="172" y="610" width="1" height="8"/><rect x="169" y="614" width="7" height="4"/><rect x="178" y="613" width="7" height="16"/><rect x="224" y="605" width="1" height="15"/><rect x="221" y="607" width="7" height="8"/><rect x="239" y="599" width="7" height="12"/><rect x="294" y="558" width="1" height="29"/><rect x="291" y="558" width="7" height="26"/><rect x="302" y="566" width="1" height="13"/><rect x="299" y="566" width="7" height="10"/><rect x="311" y="563" width="1" height="9"/><rect x="308" y="563" width="7" height="5"/><rect x="337" y="524" width="1" height="5"/><rect x="334" y="524" width="7" height="1"/><rect x="346" y="513" width="1" height="34"/><rect x="343" y="513" width="7" height="13"/><rect x="354" y="522" width="1" height="16"/><rect x="351" y="524" width="7" height="7"/><rect x="415" y="482" width="1" height="19"/><rect x="412" y="489" width="7" height="7"/><rect x="429" y="478" width="7" height="13"/><rect x="438" y="490" width="7" height="13"/><rect x="458" y="480" width="1" height="29"/><rect x="455" y="489" width="7" height="7"/><rect x="475" y="478" width="1" height="28"/><rect x="472" y="489" width="7" height="15"/><rect x="481" y="479" width="7" height="33"/><rect x="493" y="493" width="1" height="19"/><rect x="490" y="500" width="7" height="2"/><rect x="501" y="499" width="1" height="15"/><rect x="498" y="501" width="7" height="13"/><rect x="507" y="502" width="7" height="19"/><rect x="519" y="507" width="1" height="12"/><rect x="516" y="507" width="7" height="7"/><rect x="527" y="506" width="1" height="14"/><rect x="524" y="507" width="7" height="13"/><rect x="536" y="507" width="1" height="17"/><rect x="533" y="519" width="7" height="3"/><rect x="545" y="521" width="1" height="5"/><rect x="542" y="521" width="7" height="3"/><rect x="588" y="447" width="1" height="17"/><rect x="585" y="447" width="7" height="12"/><rect x="597" y="450" width="1" height="12"/><rect x="594" y="453" width="7" height="4"/><rect x="605" y="454" width="1" height="10"/><rect x="602" y="454" width="7" height="7"/><rect x="614" y="448" width="1" height="11"/><rect x="611" y="448" width="7" height="5"/><rect x="623" y="446" width="1" height="15"/><rect x="620" y="452" width="7" height="8"/><rect x="640" y="440" width="1" height="15"/><rect x="637" y="440" width="7" height="14"/><rect x="692" y="493" width="1" height="4"/><rect x="689" y="493" width="7" height="2"/><rect x="735" y="470" width="1" height="6"/><rect x="732" y="470" width="7" height="1"/><rect x="744" y="467" width="1" height="16"/><rect x="741" y="468" width="7" height="15"/><rect x="753" y="470" width="1" height="22"/><rect x="750" y="470" width="7" height="15"/><rect x="779" y="445" width="1" height="33"/><rect x="776" y="445" width="7" height="20"/><rect x="796" y="474" width="1" height="8"/><rect x="793" y="476" width="7" height="6"/><rect x="801" y="466" width="7" height="23"/><rect x="810" y="492" width="7" height="12"/><rect x="822" y="491" width="1" height="18"/><rect x="819" y="492" width="7" height="15"/><rect x="836" y="501" width="7" height="8"/><rect x="853" y="502" width="7" height="21"/><rect x="862" y="500" width="7" height="33"/><rect x="874" y="504" width="1" height="16"/><rect x="871" y="504" width="7" height="11"/><rect x="882" y="504" width="1" height="22"/><rect x="879" y="518" width="7" height="8"/><rect x="888" y="507" width="7" height="27"/><rect x="900" y="532" width="1" height="11"/><rect x="897" y="534" width="7" height="9"/><rect x="908" y="543" width="1" height="17"/><rect x="905" y="559" width="7" height="1"/><rect x="934" y="535" width="1" height="16"/><rect x="931" y="535" width="7" height="3"/><rect x="952" y="540" width="1" height="24"/><rect x="949" y="547" width="7" height="13"/><rect x="960" y="555" width="1" height="22"/><rect x="957" y="555" width="7" height="13"/><rect x="969" y="572" width="1" height="21"/><rect x="966" y="573" width="7" height="15"/><rect x="978" y="576" width="1" height="13"/><rect x="975" y="576" width="7" height="11"/><rect x="986" y="572" width="1" height="16"/><rect x="983" y="572" width="7" height="15"/><rect x="992" y="595" width="7" height="9"/><rect x="1099" y="481" width="1" height="6"/><rect x="1096" y="483" width="7" height="1"/><rect x="1108" y="485" width="1" height="18"/><rect x="1105" y="499" width="7" height="4"/></g>
<circle cx="718.5" cy="449" r="2.75" fill="#0a95ff" stroke="#0d74d1" stroke-width="1.5"/>
<circle cx="1151.5" cy="418" r="2.75" fill="#ffd600" stroke="#e8c400" stroke-width="1.5"/>
</g>
<line x1="11" y1="752.5" x2="1680.6" y2="752.5" stroke="#e4e6ee" stroke-width="1"/><line x1="1682" y1="752.5" x2="1746" y2="752.5" stroke="#e4e6ee" stroke-width="1"/>
<text class="ax" x="1689.4" y="28.05">67,500</text>
<text class="ax" x="1689.4" y="63.18">63,500</text>
<text class="ax" x="1689.4" y="100.59">59,500</text>
<text class="ax" x="1689.4" y="140.6">55,500</text>
<text class="ax" x="1689.4" y="183.61">51,500</text>
<text class="ax" x="1689.4" y="230.1">47,500</text>
<text class="ax" x="1689.4" y="280.69">43,500</text>
<text class="ax" x="1689.4" y="321.77">40,500</text>
<text class="ax" x="1689.4" y="366.03">37,500</text>
<text class="ax" x="1689.4" y="397.54">35,500</text>
<text class="ax" x="1689.4" y="430.88">33,500</text>
<text class="ax" x="1689.4" y="466.28">31,500</text>
<text class="ax" x="1689.4" y="504">29,500</text>
<text class="ax" x="1689.4" y="544.37">27,500</text>
<text class="ax" x="1689.4" y="578.83">25,900</text>
<text class="ax" x="1689.4" y="615.5">24,300</text>
<text class="ax" x="1689.4" y="645.87">23,050</text>
<text class="ax" x="1689.4" y="676.61">21,850</text>
<text class="ax" x="1689.4" y="709.09">20,650</text>
<text class="ax" x="1689.4" y="740.56">19,550</text>
<path d="M1681 114 H1729 a2 2 0 0 1 2 2 V129 a2 2 0 0 1 -2 2 H1681 Z" fill="#089981"/>
<text class="w" x="1689.5" y="126.2">56,950</text>
<path d="M1681 169 H1729 a2 2 0 0 1 2 2 V184 a2 2 0 0 1 -2 2 H1681 Z" fill="#2962ff"/>
<text class="w" x="1689.5" y="181.2">51,764</text>
<path d="M1681 186.5 H1729 a2 2 0 0 1 2 2 V200.5 a2 2 0 0 1 -2 2 H1681 Z" fill="#a5d6a7"/>
<text class="d" x="1689.5" y="198.2">50,263</text>
<path d="M1681 203 H1729 a2 2 0 0 1 2 2 V218 a2 2 0 0 1 -2 2 H1681 Z" fill="#2962ff"/>
<text class="w" x="1689.5" y="215.2">49,123</text>
<path d="M1681 232 H1729 a2 2 0 0 1 2 2 V247 a2 2 0 0 1 -2 2 H1681 Z" fill="#2196f3"/>
<text class="w" x="1689.5" y="244.2">46,396</text>
<path d="M1681 265 H1729 a2 2 0 0 1 2 2 V280 a2 2 0 0 1 -2 2 H1681 Z" fill="#faa1a4"/>
<text class="d" x="1689.5" y="277.2">43,841</text>
<path d="M1681 691 H1740 a2 2 0 0 1 2 2 V706 a2 2 0 0 1 -2 2 H1681 Z" fill="#26a69a"/>
<text class="w" x="1689.5" y="703.2">15.585M</text>
<defs><clipPath id="tax"><rect x="11" y="753" width="1670" height="26"/></clipPath></defs>
<text class="t" x="68.6" y="768.7" direction="rtl" textLength="27.5" lengthAdjust="spacingAndGlyphs">اسفند</text>
<text class="t" x="224.3" y="768.7" direction="rtl" textLength="36.1" lengthAdjust="spacingAndGlyphs">فروردین</text>
<text class="t" x="310.6" y="768.7" direction="rtl" textLength="53.6" lengthAdjust="spacingAndGlyphs">30 فروردین</text>
<text class="t" x="397.8" y="768.7" direction="rtl" textLength="46.6" lengthAdjust="spacingAndGlyphs">اردیبهشت</text>
<text class="t" x="484.2" y="768.7" direction="rtl" textLength="64.3" lengthAdjust="spacingAndGlyphs">27 اردیبهشت</text>
<text class="t" x="579.4" y="768.7" direction="rtl" textLength="26" lengthAdjust="spacingAndGlyphs">خرداد</text>
<text class="t" x="674.6" y="768.7" direction="rtl" textLength="12.7" lengthAdjust="spacingAndGlyphs">تیر</text>
<text class="t" x="830.6" y="768.7" direction="rtl" textLength="24.5" lengthAdjust="spacingAndGlyphs">مرداد</text>
<text class="t" x="917.3" y="768.7" direction="rtl" textLength="41.9" lengthAdjust="spacingAndGlyphs">25 مرداد</text>
<text class="t" x="1012.5" y="768.7" direction="rtl" textLength="32.8" lengthAdjust="spacingAndGlyphs">شهریور</text>
<text class="t" x="1151.1" y="768.7" direction="rtl" textLength="16" lengthAdjust="spacingAndGlyphs">مهر</text>
<text class="t" x="1237.5" y="768.7" direction="rtl" textLength="34.8" lengthAdjust="spacingAndGlyphs">14 آبان</text>
<text class="t" x="1384.7" y="768.7" direction="rtl" textLength="13" lengthAdjust="spacingAndGlyphs">آذر</text>
<text class="t" x="1471.4" y="768.7" direction="rtl" textLength="29.7" lengthAdjust="spacingAndGlyphs">24 آذر</text>
<text class="t" x="1583.9" y="768.7" style="font-weight:700;letter-spacing:-0.1px">1404</text>
<g clip-path="url(#tax)"><text class="t" x="1670.5" y="768.7" direction="rtl" textLength="31" lengthAdjust="spacingAndGlyphs">28 دی</text></g>
<text class="lg" x="18.1" y="27.5" textLength="99" lengthAdjust="spacingAndGlyphs">شرانل, فرابورس عادی</text>
<text class="lg" x="135.8" y="27.5" textLength="9.4" lengthAdjust="spacingAndGlyphs" text-anchor="end">باز</text>
<text class="ax" x="136.8" y="27.5" fill="#089981" style="fill:#089981">56,950</text>
<text class="lg" x="219.8" y="27.5" textLength="38.6" lengthAdjust="spacingAndGlyphs" text-anchor="end">بیشترین</text>
<text class="ax" x="220.7" y="27.5" fill="#089981" style="fill:#089981">56,950</text>
<text class="lg" x="298" y="27.5" textLength="33.4" lengthAdjust="spacingAndGlyphs" text-anchor="end">کمترین</text>
<text class="ax" x="298.5" y="27.5" fill="#089981" style="fill:#089981">53,650</text>
<text class="lg" x="370.3" y="27.5" textLength="28.5" lengthAdjust="spacingAndGlyphs" text-anchor="end">آخرین</text>
<text class="ax" x="370.5" y="27.5" fill="#089981" style="fill:#089981">56,950</text>
<text class="lg" x="18.1" y="45.1" textLength="24.3" lengthAdjust="spacingAndGlyphs">حجم</text>
<text class="lg" x="50.3" y="45.1" fill="#26a69a" style="fill:#26a69a">15.585M</text>
<text class="lg" x="18.1" y="61.8">MA</text>
<text class="ax" x="43.8" y="61.8" fill="#2196f3" style="fill:#2196f3">46,396</text>
<text class="lg" x="18.1" y="78.9">Ichimoku</text>
<text class="ax" x="74.6" y="78.9" fill="#a5d6a7" style="fill:#a5d6a7">50,263</text>
<text class="ax" x="117.4" y="78.9" fill="#faa1a4" style="fill:#faa1a4">43,841</text>
</svg>
</body></html>
